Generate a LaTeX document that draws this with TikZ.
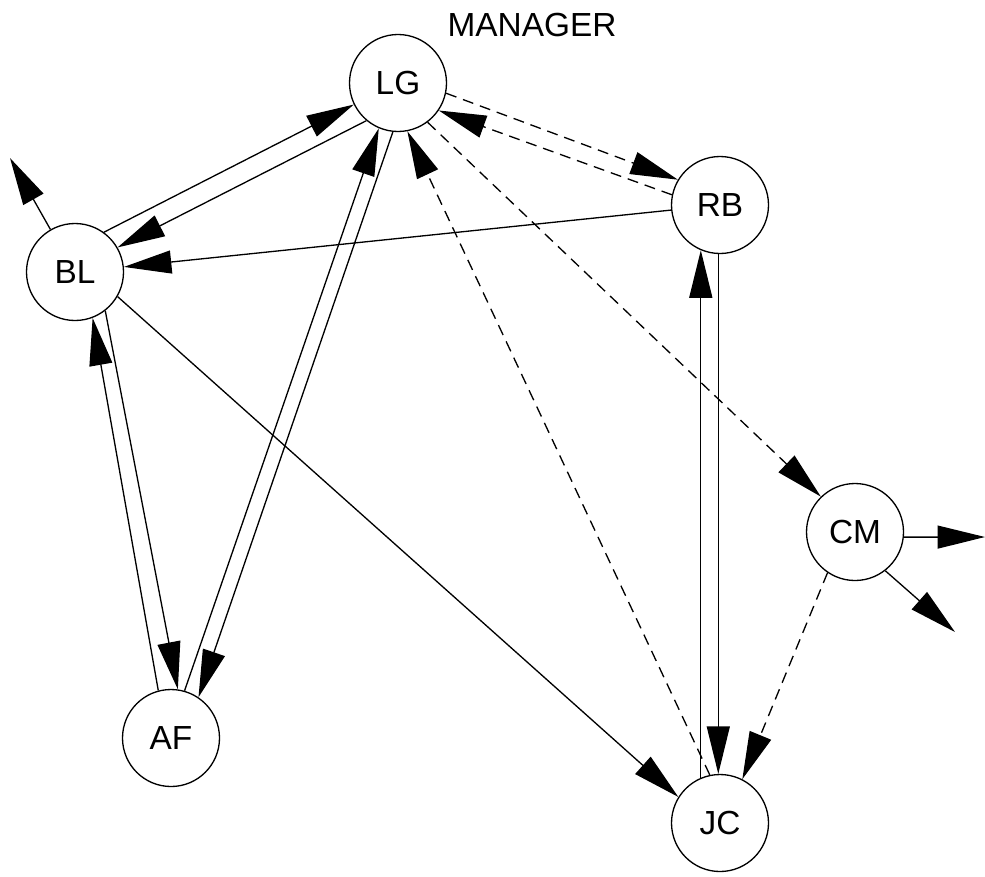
\documentclass[tikz,border=0pt]{standalone}
\usepackage{fontspec}
\setmainfont{Liberation Sans}
\usetikzlibrary{arrows.meta}
\begin{document}
\begin{tikzpicture}[every node/.style={font=\fontsize{19}{22}\selectfont}, line width=0.75pt]
  \tikzstyle{p}=[draw,circle,minimum size=1.94cm,inner sep=0pt]
  \tikzstyle{a}=[-{Triangle[length=0.95cm,width=0.46cm]}]
  \tikzstyle{d}=[a,dash pattern=on 0.22cm off 0.14cm]
  \useasboundingbox (0,0) rectangle (19.7,-17.52);
  \node[p] (lg) at (7.96,-1.66) {LG};
  \node[p] (rb) at (14.40,-4.10) {RB};
  \node[p] (bl) at (1.50,-5.44) {BL};
  \node[p] (cm) at (17.10,-10.64) {CM};
  \node[p] (af) at (3.42,-14.76) {AF};
  \node[p] (jc) at (14.40,-16.46) {JC};
  \node (mgr) at (10.64,-0.50) {MANAGER};
  \coordinate (bl-out) at (0.20,-3.16);
  \coordinate (cm-e) at (19.70,-10.74);
  \coordinate (cm-se) at (19.10,-12.64);
  % solid links
  \draw[a] (bl.54) -- (lg.206); \draw[a] (lg.230) -- (bl.30);
  \draw[a] (bl.120) -- (bl-out);
  \draw[a] (rb) -- (bl);
  \draw[a] (bl.-30) -- (jc.148);
  \draw[a] (af.105) -- (bl.-69); \draw[a] (bl.-52) -- (af.82);
  \draw[a] (af.74) -- (lg.247); \draw[a] (lg.264) -- (af.56);
  \draw[a] (jc.113) -- (rb.247); \draw[a] (rb.268) -- (jc.92);
  \draw[a] (cm.-6) -- (cm-e); \draw[a] (cm.-52) -- (cm-se);
  % dashed links
  \draw[d] (lg.-12) -- (rb.149); \draw[d] (rb.168) -- (lg.-34);
  \draw[d] (lg.-53) -- (cm.134);
  \draw[d] (jc.102) -- (lg.-79);
  \draw[d] (cm.236) -- (jc.63);
\end{tikzpicture}
\end{document}
